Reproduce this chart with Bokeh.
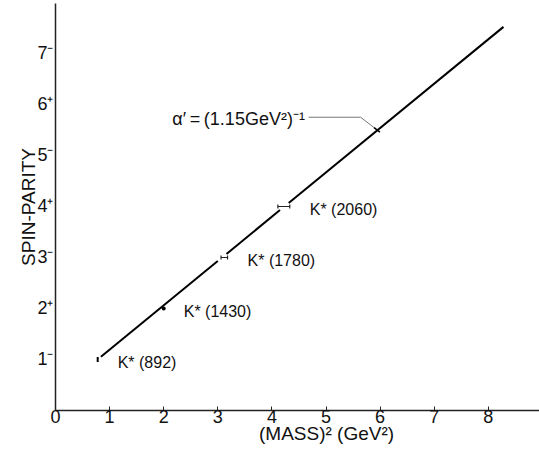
from bokeh.plotting import figure
from bokeh.models import Range1d, FixedTicker, Whisker, ColumnDataSource, TeeHead
from bokeh.core.properties import value
from bokeh.embed import file_html
from bokeh.resources import INLINE

# ---- data ----
names = ["K* (892)", "K* (1430)", "K* (1780)", "K* (2060)"]
mass2 = [0.78, 2.0, 3.12, 4.22]          # (MASS)^2 in GeV^2
spin = [1, 2, 3, 4]
mass2_err = [0.0, 0.0, 0.06, 0.11]
x_ticks = [0, 1, 2, 3, 4, 5, 6, 7, 8]
y_ticks = [1, 2, 3, 4, 5, 6, 7]
y_tick_labels = ["1⁻", "2⁺", "3⁻", "4⁺", "5⁻", "6⁺", "7⁻"]
alpha_inv = 1.15                          # GeV^2
traj_x0 = 0.78                            # x where J = 1
traj_x_start = 0.84
traj_x_end = 8.28
annot_text = "α′\u2009=\u2009(1.15GeV²)⁻¹"
annot_x = 2.16
annot_y = 5.72
annot_bend_x = [4.68, 5.64]
annot_hit_x = 5.95
x_title = "(MASS)² (GeV²)"
y_title = "SPIN-PARITY"

FONT = "Liberation Sans"
X_END = 8.946
Y_END = 7.98


def traj(x):
    return 1 + (x - traj_x0) / alpha_inv


def traj_inv(j):
    return traj_x0 + (j - 1) * alpha_inv


p = figure(width=539, height=457, output_backend="svg", toolbar_location=None,
           x_range=Range1d(0, X_END), y_range=Range1d(0, Y_END),
           min_border_left=55, min_border_right=0, min_border_top=3,
           min_border_bottom=47)
p.outline_line_color = None
p.grid.grid_line_color = None
p.background_fill_color = "white"

# x axis
xa = p.xaxis[0]
xa.ticker = FixedTicker(ticks=x_ticks)
xa.axis_line_color = "#222222"
xa.axis_line_width = 1.5
xa.major_tick_in = 4
xa.major_tick_out = 0
xa.major_tick_line_color = "#222222"
xa.minor_tick_line_color = None
xa.major_label_text_font = FONT
xa.major_label_text_font_size = "18px"
xa.major_label_text_color = "#111111"
xa.major_label_standoff = -1
xa.axis_label = "\u00a0" * 11 + x_title
xa.axis_label_text_font = FONT
xa.axis_label_text_font_size = "19px"
xa.axis_label_text_font_style = "normal"
xa.axis_label_text_color = "#111111"
xa.axis_label_standoff = -3

# y axis: spin digits with parity superscripts
ya = p.yaxis[0]
ya.ticker = FixedTicker(ticks=y_ticks)
ya.major_label_overrides = {t: s for t, s in zip(y_ticks, y_tick_labels)}
ya.axis_line_color = "#222222"
ya.axis_line_width = 1.5
ya.major_tick_line_color = None
ya.minor_tick_line_color = None
ya.major_tick_in = 0
ya.major_tick_out = 0
ya.major_label_standoff = 2
ya.major_label_text_font = FONT
ya.major_label_text_font_size = "18px"
ya.major_label_text_color = "#111111"
ya.axis_label = y_title
ya.axis_label_text_font = FONT
ya.axis_label_text_font_size = "19px"
ya.axis_label_text_font_style = "normal"
ya.axis_label_text_color = "#111111"
ya.axis_label_standoff = -5

# trajectory line, broken around the error bars of the upper states
gap = 0.07
breaks = [j for j, e in zip(spin, mass2_err) if e > 0]
seg_start = [traj_x_start] + [traj_inv(j + gap) for j in breaks]
seg_end = [traj_inv(j - gap) for j in breaks] + [traj_x_end]
p.segment(x0=seg_start, y0=[traj(v) for v in seg_start],
          x1=seg_end, y1=[traj(v) for v in seg_end],
          line_color="black", line_width=2)

# data points
p.rect(x=[mass2[0]], y=[spin[0]], width=2, height=5,
       width_units="screen", height_units="screen",
       fill_color="black", line_color=None)
p.scatter(x=[mass2[1]], y=[spin[1]], size=4, marker="circle",
          fill_color="black", line_color=None)
err_idx = [i for i, e in enumerate(mass2_err) if e > 0]
src = ColumnDataSource(dict(
    y=[spin[i] for i in err_idx],
    lo=[mass2[i] - mass2_err[i] for i in err_idx],
    hi=[mass2[i] + mass2_err[i] for i in err_idx]))
w = Whisker(source=src, base="y", lower="lo", upper="hi", dimension="width",
            line_color="#222222", line_width=1.2,
            lower_head=TeeHead(size=4, line_color="#222222", line_width=1.2),
            upper_head=TeeHead(size=4, line_color="#222222", line_width=1.2))
p.add_layout(w)

# state labels
p.text(x=[m + e for m, e in zip(mass2, mass2_err)], y=spin, text=names,
       x_offset=20, y_offset=3,
       text_font=value(FONT), text_font_size="16px", text_color="#111111",
       text_baseline="middle", text_align="left")

# slope annotation with leader line
p.text(x=[annot_x], y=[annot_y], text=[annot_text],
       text_font=value(FONT), text_font_size="18px", text_color="#111111",
       text_baseline="middle", text_align="left")
p.line(x=[annot_bend_x[0], annot_bend_x[1], annot_hit_x],
       y=[annot_y + 0.03, annot_y + 0.03, traj(annot_hit_x)],
       line_color="#777777", line_width=1)
dx = annot_hit_x - annot_bend_x[1]
dy = traj(annot_hit_x) - (annot_y + 0.03)
p.segment(x0=[annot_bend_x[1] + 0.8 * dx], y0=[annot_y + 0.03 + 0.8 * dy],
          x1=[annot_bend_x[1] + 1.15 * dx], y1=[annot_y + 0.03 + 1.15 * dy],
          line_color="black", line_width=1.5)

open("out.html", "w").write(file_html(p, INLINE))
